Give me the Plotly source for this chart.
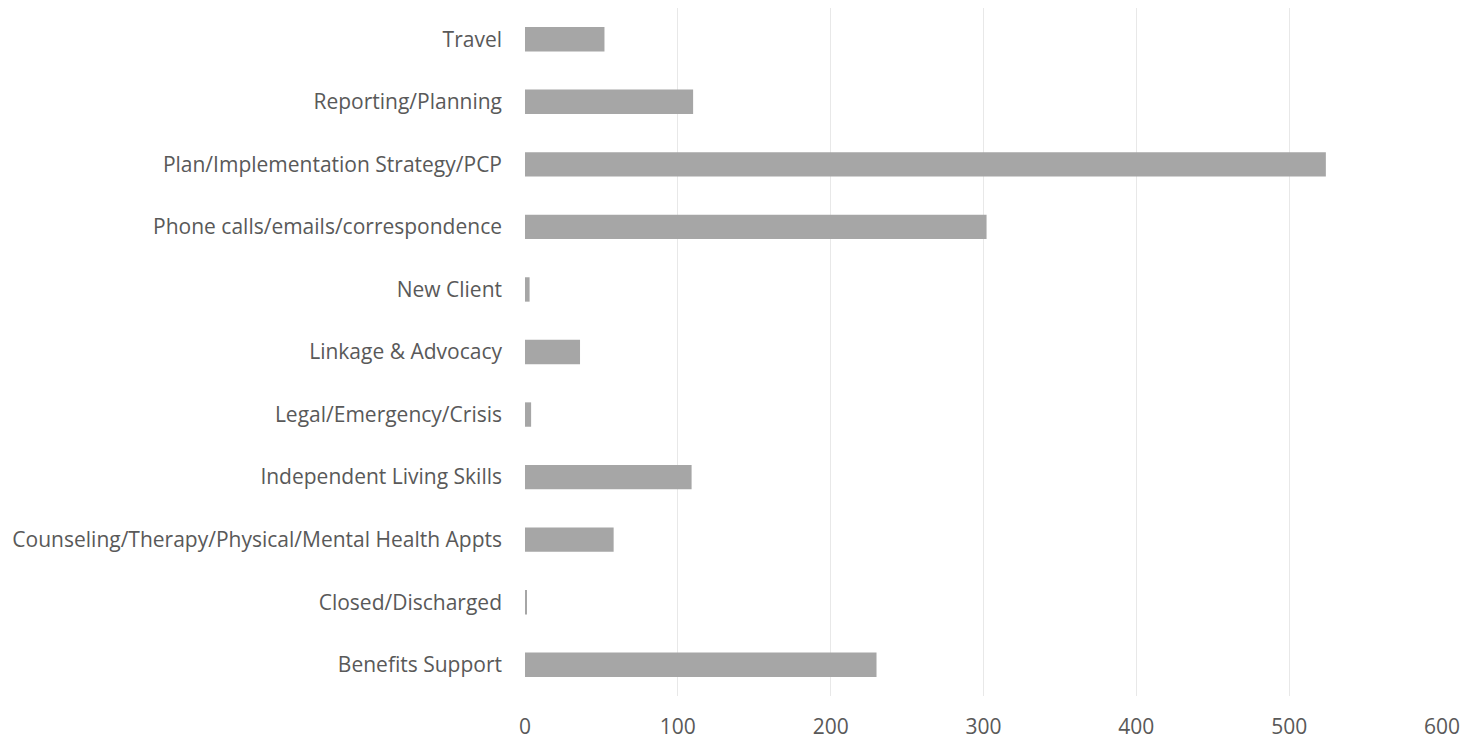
import plotly.graph_objects as go

categories = [
    "Benefits Support",
    "Closed/Discharged",
    "Counseling/Therapy/Physical/Mental Health Appts",
    "Independent Living Skills",
    "Legal/Emergency/Crisis",
    "Linkage & Advocacy",
    "New Client",
    "Phone calls/emails/correspondence",
    "Plan/Implementation Strategy/PCP",
    "Reporting/Planning",
    "Travel",
]
values = [230, 1, 58, 109, 4, 36, 3, 302, 524, 110, 52]
x_ticks = [0, 100, 200, 300, 400, 500, 600]

fig = go.Figure(go.Bar(
    y=categories, x=values, orientation="h",
    marker=dict(color="#a6a6a6", line=dict(width=0)),
))
fig.update_layout(
    width=1471, height=736,
    margin=dict(l=517, r=37, t=0, b=48, autoexpand=False),
    paper_bgcolor="white", plot_bgcolor="white",
    bargap=0.61,
    showlegend=False,
    font=dict(family="Open Sans, sans-serif", size=21, color="#595959"),
)
fig.update_xaxes(
    range=[0, 600], tickvals=x_ticks, showgrid=True, gridcolor="#e8e8e8", gridwidth=1,
    zeroline=False, showline=False, ticks="", tickfont=dict(size=21, color="#595959"),
    ticklabelstandoff=16,
)
fig.update_yaxes(
    categoryorder="array", categoryarray=categories, showgrid=False, zeroline=False,
    showline=False, ticks="", ticklabelstandoff=22, tickfont=dict(size=21, color="#595959"),
)
fig.write_html("out.html")
